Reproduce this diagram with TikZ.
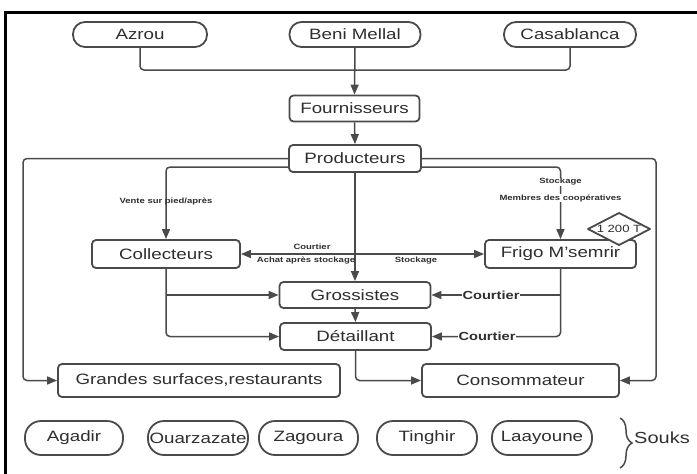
\documentclass[tikz,border=0pt]{standalone}
\usepackage{fontspec}
\setmainfont{Liberation Sans}[FakeStretch=1.25]
\usetikzlibrary{arrows.meta,decorations.pathreplacing}
\definecolor{ln}{HTML}{4A4A4A}
\definecolor{tx}{HTML}{2E2E2E}
\begin{document}
\begin{tikzpicture}[x=1pt,y=-1pt,
 box/.style={draw=ln,line width=1.8pt,rounded corners=4pt,fill=white,text=tx,inner sep=0pt,font=\fontsize{15}{18}\selectfont},
 pill/.style={box,rounded corners=12pt},
 conn/.style={draw=ln,line width=1.5pt,rounded corners=4pt},
 arr/.style={conn,-{Triangle[length=10pt,width=8pt]}},
 lab/.style={font=\bfseries\fontsize{7.6}{9}\selectfont,text=tx,inner sep=0.5pt},
 clab/.style={font=\bfseries\fontsize{11.7}{14}\selectfont,text=tx,fill=white,inner sep=1pt}
]
\useasboundingbox (0,0) rectangle (697,474);
\draw[line width=3pt,black] (5,480) -- (5,12) -- (700,12);

% top sources
\node[pill,minimum width=134pt,minimum height=25pt] (azrou) at (140,34.5) {Azrou};
\node[pill,minimum width=131pt,minimum height=25pt] (beni) at (355,34.5) {Beni Mellal};
\node[pill,minimum width=132pt,minimum height=25pt] (casa) at (570,34.5) {Casablanca};
\node[box,minimum width=130pt,minimum height=26pt] (four) at (354.5,108.5) {Fournisseurs};
\node[box,minimum width=132pt,minimum height=27pt] (prod) at (355,158.5) {Producteurs};
\node[box,minimum width=148pt,minimum height=28pt] (coll) at (166,254) {Collecteurs};
\node[box,minimum width=151pt,minimum height=28pt] (frigo) at (560.5,254) {Frigo M'semrir};
\node[box,minimum width=151pt,minimum height=26pt] (gros) at (355,295) {Grossistes};
\node[box,minimum width=151pt,minimum height=27pt] (det) at (355.5,336.5) {Détaillant};
\node[box,minimum width=282pt,minimum height=33pt] (gsr) at (199,380.5) {Grandes surfaces,restaurants};
\node[box,minimum width=197pt,minimum height=33pt] (cons) at (520.5,380.5) {Consommateur};

% souks
\node[pill,rounded corners=16pt,minimum width=98pt,minimum height=34pt] (aga) at (74,438) {Agadir};
\node[pill,rounded corners=16pt,minimum width=100pt,minimum height=34pt] (ouar) at (198,438) {Ouarzazate};
\node[pill,rounded corners=16pt,minimum width=99pt,minimum height=34pt] (zag) at (308.5,438) {Zagoura};
\node[pill,rounded corners=16pt,minimum width=100pt,minimum height=34pt] (ting) at (427,438) {Tinghir};
\node[pill,rounded corners=16pt,minimum width=100pt,minimum height=34pt] (laay) at (542,438) {Laayoune};
\draw[draw=ln,line width=1.5pt,decorate,decoration={brace,amplitude=12pt}] (620,418) -- (620,468);
\node[font=\fontsize{16}{19}\selectfont,text=tx,anchor=west,inner sep=0pt] (souks) at (634,438) {Souks};

% connectors
\coordinate (j) at (355,70);
\coordinate (ol) at (23,0);
\coordinate (or) at (656,0);
\draw[conn] (azrou.south) |- (j) -| (casa.south);
\draw[arr] (beni.south) -- (four.north);
\draw[arr] (four.south) -- (prod.north);
\draw[arr] (prod.west) -- (prod.west -| ol) -- (gsr.west -| ol) -- (gsr.west);
\draw[arr] (prod.east) -- (prod.east -| or) -- (cons.east -| or) -- (cons.east);
\draw[arr] ([yshift=-8.5pt]prod.west) -| (coll.north);
\draw[arr] ([yshift=-8.5pt]prod.east) -| (frigo.north);
\draw[arr] (prod.south) -- (gros.north);
\draw[arr] (gros.south) -- (det.north);
\draw[conn,{Triangle[length=10pt,width=8pt]}-{Triangle[length=10pt,width=8pt]}] (coll.east) -- (frigo.west);
\draw[arr] (coll.south) |- (det.west);
\draw[arr] (coll.south |- gros.west) -- (gros.west);
\draw[arr] (frigo.south) |- (det.east);
\draw[arr] (frigo.south |- gros.east) -- (gros.east);
\draw[arr] (det.south) |- (cons.west);

% labels
\node[lab] (vente) at (166,201) {Vente sur pied/après};
\node[lab,fill=white] (stk) at (560.5,182) {Stockage};
\node[lab,fill=white] (mem) at (560.5,198) {Membres des coopératives};
\node[lab] (court) at (312,247) {Courtier};
\node[lab] (achat) at (306,261) {Achat après stockage};
\node[lab] (stk2) at (416,261) {Stockage};
\node[clab] (c1) at (491,295.5) {Courtier};
\node[clab] (c2) at (487,336.5) {Courtier};

% quantity diamond
\coordinate (qc) at (619,229);
\draw[draw=ln,line width=1.8pt,fill=white,line join=round] ([xshift=-31pt]qc) -- ([yshift=16pt]qc) -- ([xshift=31pt]qc) -- ([yshift=-16pt]qc) -- cycle;
\node[font=\fontsize{10.5}{12}\selectfont,text=tx,inner sep=0pt] (qty) at (qc) {1 200 T};
\end{tikzpicture}
\end{document}
